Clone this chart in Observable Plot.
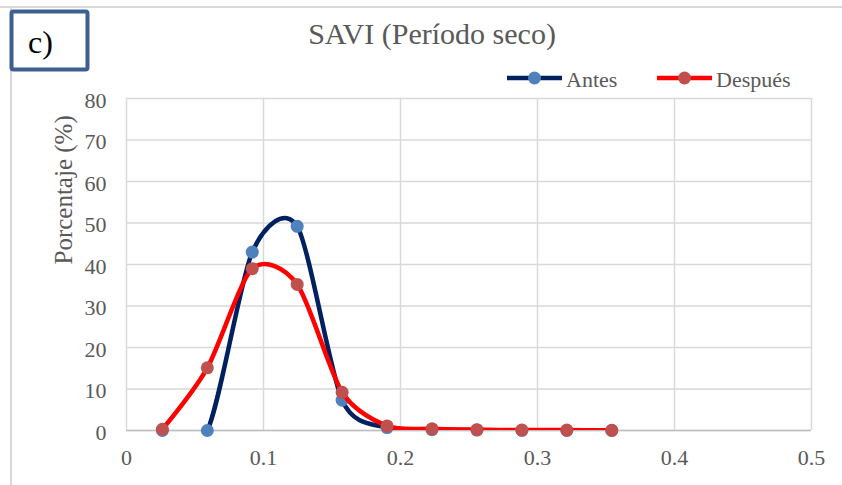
<!DOCTYPE html>
<html>
<head>
<meta charset="utf-8">
<script src="https://cdn.jsdelivr.net/npm/d3@7"></script>
<script src="https://cdn.jsdelivr.net/npm/@observablehq/plot@0.6"></script>
<style>
  html, body { margin: 0; padding: 0; background: #ffffff; }
  #wrap { position: relative; width: 842px; height: 485px; overflow: hidden; }
  #wrap svg, #wrap svg text { font-family: "Liberation Serif", "Times New Roman", serif !important; }
  #overlay { position: absolute; left: 0; top: 0; pointer-events: none; }
</style>
</head>
<body>
<div id="wrap"></div>
<script>
// ---- data ----
const titleText = "SAVI (Período seco)";
const yLabel = "Porcentaje (%)";
const panelLabel = "c)";
const seriesNames = ["Antes", "Después"];
const saviBins = [0.0262, 0.0590, 0.0918, 0.1246, 0.1574, 0.1902, 0.2230, 0.2558, 0.2886, 0.3214, 0.3542];
const antes   = [0.0, 0.0, 43.0, 49.2, 7.3, 0.7, 0.2, 0.1, 0.05, 0.0, 0.0];
const despues = [0.3, 15.1, 39.0, 35.2, 9.2, 1.1, 0.4, 0.2, 0.1, 0.1, 0.05];
const xTicks = [0, 0.1, 0.2, 0.3, 0.4, 0.5];
const yTicks = [0, 10, 20, 30, 40, 50, 60, 70, 80];

const antesData = saviBins.map((x, i) => ({x, y: antes[i]}));
const despuesData = saviBins.map((x, i) => ({x, y: despues[i]}));

const colAntesLine = "#002060", colAntesDot = "#4f81bd";
const colDespLine = "#ff0000", colDespDot = "#c0504d";
const gridCol = "#d9d9d9";
const textCol = "#595959";
const serif = "Liberation Serif";

const chart = Plot.plot({
  width: 842,
  height: 485,
  marginLeft: 126,
  marginRight: 31,
  marginTop: 98,
  marginBottom: 55,
  style: {fontFamily: serif, fontSize: "22px", color: textCol, background: "transparent"},
  x: {domain: [0, 0.5], label: null},
  y: {domain: [0, 80], label: null},
  marks: [
    Plot.gridX(xTicks, {stroke: gridCol, strokeOpacity: 1, strokeWidth: 1.5}),
    Plot.gridY(yTicks, {stroke: gridCol, strokeOpacity: 1, strokeWidth: 1.5}),
    Plot.ruleY([0], {stroke: "#bfbfbf", strokeWidth: 1.5}),
    Plot.axisX(xTicks, {tickSize: 0, tickPadding: 19, fill: textCol, fontFamily: serif, fontSize: 22, tickFormat: d => String(d), label: null}),
    Plot.axisY(yTicks, {tickSize: 0, tickPadding: 20, fill: textCol, fontFamily: serif, fontSize: 22, dy: 2, label: null}),
    Plot.text([yLabel], {frameAnchor: "left", dx: -63, rotate: -90, fontSize: 25, fill: textCol, fontFamily: serif}),
    Plot.line(antesData, {x: "x", y: "y", curve: "cardinal", tension: 0.2, stroke: colAntesLine, strokeWidth: 4.5, clip: "frame"}),
    Plot.dot(antesData, {x: "x", y: "y", r: 6.5, fill: colAntesDot, stroke: "none"}),
    Plot.line(despuesData, {x: "x", y: "y", curve: "cardinal", tension: 0.2, stroke: colDespLine, strokeWidth: 4.5, clip: "frame"}),
    Plot.dot(despuesData, {x: "x", y: "y", r: 6.5, fill: colDespDot, stroke: "none"})
  ]
});

const wrap = document.getElementById("wrap");
wrap.appendChild(chart);

// ---- overlay: border, panel label, title, legend ----
const ov = d3.select(wrap).append("svg")
  .attr("id", "overlay").attr("width", 842).attr("height", 485)
  .attr("font-family", serif);

ov.append("line").attr("x1", 0).attr("x2", 842).attr("y1", 7).attr("y2", 7)
  .attr("stroke", gridCol).attr("stroke-width", 2);
ov.append("line").attr("x1", 11).attr("x2", 11).attr("y1", 7).attr("y2", 485)
  .attr("stroke", gridCol).attr("stroke-width", 2);

ov.append("rect").attr("x", 11.5).attr("y", 11.5).attr("width", 76).attr("height", 58)
  .attr("rx", 2).attr("fill", "#ffffff").attr("stroke", "#3c5f8f").attr("stroke-width", 4);
ov.append("text").attr("x", 28).attr("y", 53).attr("font-size", 32).attr("fill", "#000000").text(panelLabel);

ov.append("text").attr("x", 432).attr("y", 44).attr("text-anchor", "middle")
  .attr("font-size", 30).attr("fill", textCol).text(titleText);

const legendItems = [
  {name: seriesNames[0], x0: 507, line: colAntesLine, dot: colAntesDot},
  {name: seriesNames[1], x0: 657, line: colDespLine, dot: colDespDot}
];
legendItems.forEach(it => {
  const g = ov.append("g");
  g.append("line").attr("x1", it.x0).attr("x2", it.x0 + 55).attr("y1", 78).attr("y2", 78)
    .attr("stroke", it.line).attr("stroke-width", 4.5);
  g.append("circle").attr("cx", it.x0 + 27.5).attr("cy", 78).attr("r", 6.5).attr("fill", it.dot);
  g.append("text").attr("x", it.x0 + 59).attr("y", 87).attr("font-size", 22).attr("fill", textCol).text(it.name);
});
</script>
</body>
</html>
